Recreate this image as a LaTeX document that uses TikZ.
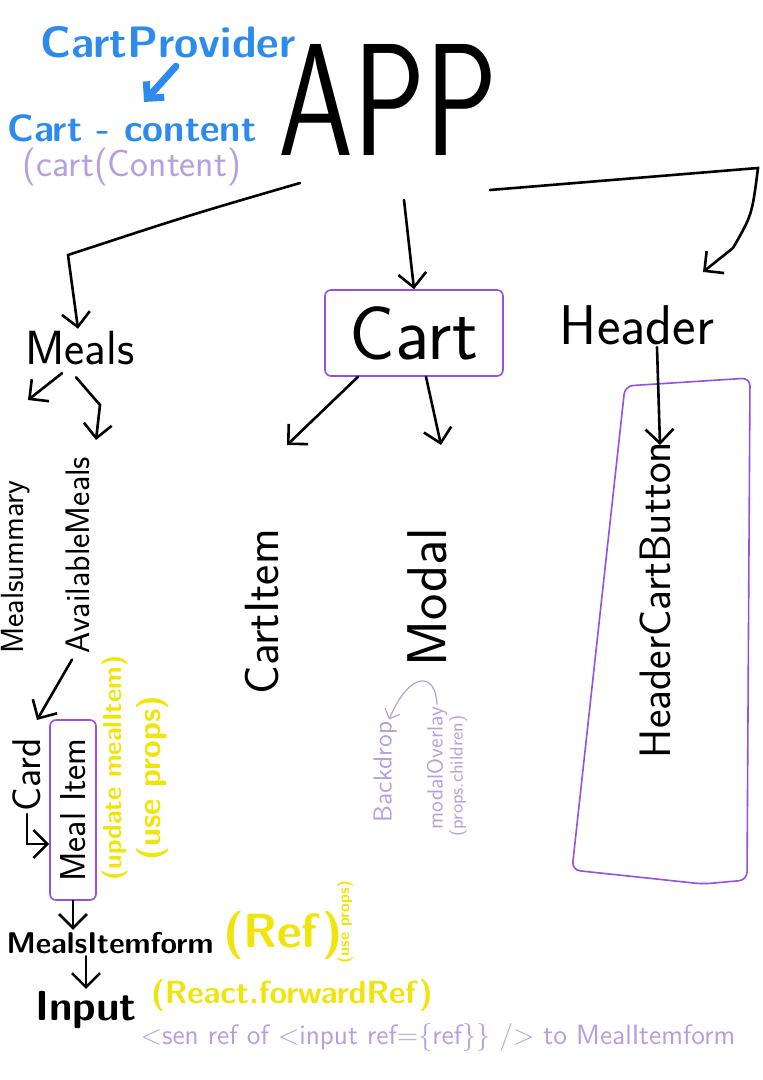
\documentclass[tikz,border=0pt]{standalone}
\usepackage{graphicx}
\usetikzlibrary{arrows.meta, positioning}
\definecolor{provblue}{RGB}{45,140,235}
\definecolor{boxpurple}{RGB}{150,80,225}
\definecolor{notepurple}{RGB}{180,160,225}
\definecolor{hlyellow}{RGB}{240,228,10}
\newcommand{\fs}[1]{\fontsize{#1}{#1}\selectfont}
\tikzset{
  txt/.style={inner sep=1pt, font=\sffamily},
  bluetxt/.style={inner sep=1pt, text=provblue, font=\sffamily\bfseries},
  hltxt/.style={inner sep=1pt, text=hlyellow, font=\sffamily\bfseries},
  notetxt/.style={inner sep=1pt, text=notepurple, font=\sffamily},
  pbox/.style={draw=boxpurple, line width=0.8pt, rounded corners=3pt},
  link/.style={line width=1.3pt, line cap=round, -{Straight Barb[length=7pt,width=14pt]}},
  bluelink/.style={line width=3.5pt, provblue, line cap=round, -{Straight Barb[length=6pt,width=12pt]}},
  notelink/.style={line width=0.6pt, notepurple, -{Straight Barb[length=4pt,width=8pt]}}
}
\begin{document}
\begin{tikzpicture}[x=0.5pt, y=-0.5pt]
  \useasboundingbox[fill=white] (0,0) rectangle (763,1080);

  % context notes, top left
  \node[bluetxt, font=\sffamily\bfseries\fs{22}] (CartProvider) at (168,42) {CartProvider};
  \node[bluetxt, font=\sffamily\bfseries\fs{19}] (CartContent) at (132,128) {Cart - content};
  \node[notetxt, font=\sffamily\fs{19}] (CartContentCall) at (132,167) {(cart(Content)};
  \draw[bluelink] ([xshift=4pt,yshift=-3pt]CartProvider.south) -- ([xshift=6pt,yshift=5pt]CartContent.north);

  % top level
  \node[txt, font=\sffamily\fs{80}] (App) at (388,100) {\scalebox{0.75}[1]{APP}};
  \coordinate (appL) at (300,183);
  \coordinate (bendL) at (68,255);
  \coordinate (appC) at (404,200);
  \coordinate (appR) at (490,190);
  \coordinate (bendR) at (758,168);
  \coordinate (hdTip) at (703,272);

  \node[txt, font=\sffamily\fs{24}] (Meals) at (80,348) {Meals};
  \node[txt, pbox, font=\sffamily\fs{38}, minimum width=89pt, minimum height=43pt] (Cart) at (414,333) {Cart};
  \node[txt, font=\sffamily\fs{28}] (Header) at (637,325) {Header};

  \draw[link] (appL) .. controls (190,215) .. (bendL) -- ([xshift=-1pt]Meals.north);
  \draw[link] (appC) -- (Cart.north);
  \draw[link] (appR) -- (bendR) .. controls (752,215) .. (733,248) -- (hdTip);

  % Meals branch
  \node[txt, rotate=90, font=\sffamily\fs{16}] (MealSummary) at (16,567) {Mealsummary};
  \node[txt, rotate=90, font=\sffamily\fs{17}] (AvailableMeals) at (78,555) {AvailableMeals};
  \coordinate (msTip) at (28,400);
  \coordinate (amBend) at (100,405);
  \coordinate (amTip) at (96,440);
  \draw[link] ([xshift=-9pt,yshift=-3pt]Meals.south) -- (msTip);
  \draw[link] ([xshift=-2pt,yshift=-5pt]Meals.south) -- (amBend) -- (amTip);

  \node[txt, rotate=90, font=\sffamily\fs{20}] (Card) at (27,775) {Card};
  \node[txt, pbox, rotate=90, font=\sffamily\fs{18}, minimum width=90pt, minimum height=23pt] (MealItem) at (73,810) {Meal Item};
  \node[hltxt, rotate=90, font=\sffamily\bfseries\fs{13}] (UpdateNote) at (115,768) {(update mealItem)};
  \node[hltxt, rotate=90, font=\sffamily\bfseries\fs{16}] (PropsNote) at (152,778) {(use props)};
  \draw[link] ([xshift=-3pt,yshift=-2pt]AvailableMeals.west) -- ([xshift=5pt,yshift=8pt]Card.east);
  \draw[link] (Card.west) |- ([yshift=-17pt]MealItem.north);

  \node[txt, font=\sffamily\bfseries\fs{15}] (MealsItemform) at (110,943) {MealsItemform};
  \node[hltxt, font=\sffamily\bfseries\fs{24}] (RefNote) at (283,935) {(Ref)};
  \node[hltxt, rotate=90, font=\sffamily\bfseries\fs{8}] (RefProps) at (345,922) {(use props)};
  \node[txt, font=\sffamily\bfseries\fs{21}] (Input) at (86,1010) {Input};
  \node[hltxt, font=\sffamily\bfseries\fs{16}] (ForwardNote) at (292,995) {(React.forwardRef)};
  \node[notetxt, font=\sffamily\fs{14}] (SendNote) at (438,1037)
    {\textless sen ref of \textless input ref=\{ref\}\} /\textgreater{} to MealItemform};
  \draw[link] (MealItem.west) -- (MealItem.west |- MealsItemform.north);
  \draw[link] (Input.north |- MealsItemform.south) -- (Input.north);

  % Cart branch
  \node[txt, rotate=90, font=\sffamily\fs{24}] (CartItem) at (262,612) {CartItem};
  \node[txt, rotate=90, font=\sffamily\fs{28}] (Modal) at (427,597) {Modal};
  \coordinate (ciTip) at (287,445);
  \coordinate (mdTip) at (441,445);
  \draw[link] ([xshift=-28pt]Cart.south) -- (ciTip);
  \draw[link] ([xshift=6pt]Cart.south) -- (mdTip);

  \node[notetxt, rotate=90, font=\sffamily\fs{13}] (Backdrop) at (385,772) {Backdrop};
  \node[notetxt, rotate=90, font=\sffamily\fs{11}] (ModalOverlay) at (437,768) {modalOverlay};
  \node[notetxt, rotate=90, font=\sffamily\fs{9}] (PropsChildren) at (458,776) {(props.children)};
  \draw[notelink] (ModalOverlay.east) .. controls (436,672) and (410,670) .. ([xshift=2pt]Backdrop.east);

  % Header branch
  \node[txt, rotate=90, font=\sffamily\fs{22}] (HeaderCartButton) at (655,600) {HeaderCartButton};
  \draw[boxpurple, line width=0.8pt, rounded corners=4pt]
    (625,386) -- (750,378) -- (747,880) -- (703,884) -- (572,870) -- cycle;
  \coordinate (hcbTip) at (660,445);
  \draw[link] ([xshift=10pt]Header.south) -- (hcbTip);
\end{tikzpicture}
\end{document}
